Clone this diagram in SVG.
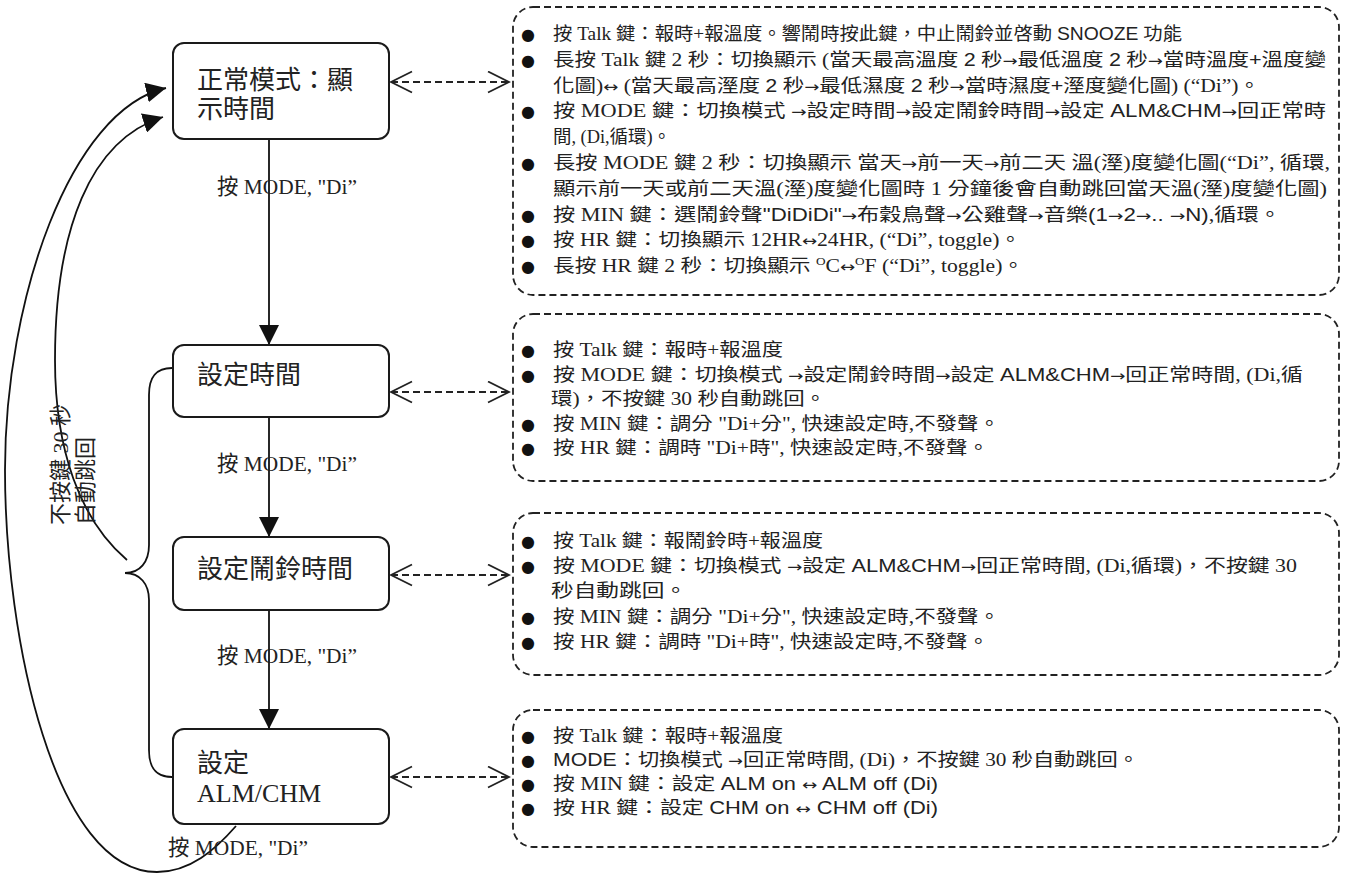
<svg xmlns="http://www.w3.org/2000/svg" width="1350" height="874" viewBox="0 0 1350 874">
<defs>
<style>
.node rect{fill:#fff;stroke:#1a1a1a;stroke-width:2}
.nt{font-family:'Liberation Serif','Noto Sans CJK TC',serif;font-size:26px;fill:#222}
.lbl{font-family:'Liberation Serif','Noto Sans CJK TC',serif;font-size:22px;fill:#222}
.box{fill:none;stroke:#222;stroke-width:1.8;stroke-dasharray:7 4}
.bt{font-family:'Liberation Serif','Noto Sans CJK TC',serif;font-size:18px;fill:#222}
.bu{font-family:'DejaVu Sans',sans-serif;font-size:16px;fill:#111}
.s{font-family:'Liberation Sans','Noto Sans CJK TC',sans-serif}
.ar{font-family:'DejaVu Sans',sans-serif;font-size:15px}
.solid{fill:none;stroke:#111;stroke-width:1.8}
.dash{fill:none;stroke:#222;stroke-width:1.8;stroke-dasharray:7 4}
</style>
<marker id="tri" markerUnits="userSpaceOnUse" markerWidth="20" markerHeight="20" refX="20" refY="10" orient="auto"><path d="M0,0 L20,10 L0,20 z" fill="#111"/></marker>
<marker id="open" markerUnits="userSpaceOnUse" markerWidth="24" markerHeight="24" refX="22" refY="11.5" orient="auto-start-reverse"><path d="M1,1 L22,11.5 L1,22" fill="none" stroke="#222" stroke-width="1.8"/></marker>
</defs>
<rect width="1350" height="874" fill="#fff"/>

<g id="connectors">
  <line class="solid" x1="269" y1="140" x2="269" y2="345" marker-end="url(#tri)"/>
  <line class="solid" x1="269" y1="418" x2="269" y2="537" marker-end="url(#tri)"/>
  <line class="solid" x1="269" y1="611" x2="269" y2="729" marker-end="url(#tri)"/>
  <text class="lbl" x="217" y="194" textLength="140" lengthAdjust="spacingAndGlyphs">按 MODE, "Di”</text>
  <text class="lbl" x="217" y="471" textLength="140" lengthAdjust="spacingAndGlyphs">按 MODE, "Di”</text>
  <text class="lbl" x="217" y="663" textLength="140" lengthAdjust="spacingAndGlyphs">按 MODE, "Di”</text>
  <path class="solid" d="M236,826 C215,850 190,872 157,872 C55,872 5,640 5,470 C5,300 70,110 166,88" marker-end="url(#tri)"/>
  <text class="lbl" x="168" y="855" textLength="140" lengthAdjust="spacingAndGlyphs">按 MODE, "Di”</text>
  <path class="solid" d="M172,368 C155,368 149,378 149,395 L149,545 C149,562 140,573 125,573 C140,573 149,584 149,600 L149,750 C149,767 155,777 172,777"/>
  <path class="solid" d="M127,560 C80,520 55,450 55,360 C55,230 90,140 163,117" marker-end="url(#tri)"/>
  <text class="lbl" transform="translate(68,525) rotate(-90)" x="0" y="0" font-size="21">不按鍵 30 秒</text>
  <text class="lbl" transform="translate(93,525) rotate(-90)" x="0" y="0" font-size="21">自動跳回</text>
  <line class="dash" x1="391" y1="82" x2="509" y2="82" marker-start="url(#open)" marker-end="url(#open)"/>
  <line class="dash" x1="391" y1="392" x2="509" y2="392" marker-start="url(#open)" marker-end="url(#open)"/>
  <line class="dash" x1="391" y1="575" x2="509" y2="575" marker-start="url(#open)" marker-end="url(#open)"/>
  <line class="dash" x1="391" y1="777" x2="509" y2="777" marker-start="url(#open)" marker-end="url(#open)"/>
</g>

<g id="node-normal" class="node">
  <rect x="173" y="43" width="216" height="96" rx="11"/>
  <text class="nt" x="197" y="89">正常模式：顯</text>
  <text class="nt" x="197" y="118">示時間</text>
</g>
<g id="node-settime" class="node">
  <rect x="173" y="345" width="216" height="72" rx="11"/>
  <text class="nt" x="197" y="384">設定時間</text>
</g>
<g id="node-setalarm" class="node">
  <rect x="173" y="537" width="216" height="73" rx="11"/>
  <text class="nt" x="197" y="578">設定鬧鈴時間</text>
</g>
<g id="node-setalmchm" class="node">
  <rect x="173" y="729" width="216" height="95" rx="11"/>
  <text class="nt" x="197" y="772">設定</text>
  <text class="nt" x="197" y="802">ALM/CHM</text>
</g>

<g id="box-normal">
  <rect class="box" x="513" y="7" width="826" height="288" rx="20"/>
  <text class="bu" x="521" y="40">●</text>
  <text class="bt" x="553" y="40" textLength="629" lengthAdjust="spacingAndGlyphs">按 Talk 鍵：報時+報溫度。響鬧時按此鍵，中止鬧鈴並啓動 <tspan class="s">SNOOZE</tspan> 功能</text>
  <text class="bu" x="521" y="66">●</text>
  <text class="bt" x="553" y="66" textLength="773" lengthAdjust="spacingAndGlyphs">長按 Talk 鍵 2 秒：切換顯示 (當天最高溫度 <tspan class="s">2</tspan> 秒<tspan class="ar">→</tspan>最低溫度 <tspan class="s">2</tspan> 秒<tspan class="ar">→</tspan>當時溫度<tspan class="s">+</tspan>溫度變</text>
  <text class="bt" x="553" y="92" textLength="707" lengthAdjust="spacingAndGlyphs">化圖)<tspan class="ar">↔</tspan> (當天最高溼度 <tspan class="s">2</tspan> 秒<tspan class="ar">→</tspan>最低濕度 <tspan class="s">2</tspan> 秒<tspan class="ar">→</tspan>當時濕度<tspan class="s">+</tspan>溼度變化圖) (“Di”)。</text>
  <text class="bu" x="521" y="117">●</text>
  <text class="bt" x="553" y="117" textLength="773" lengthAdjust="spacingAndGlyphs">按 MODE 鍵：切換模式  <tspan class="ar">→</tspan>設定時間<tspan class="ar">→</tspan>設定鬧鈴時間<tspan class="ar">→</tspan>設定 <tspan class="s">ALM&amp;CHM</tspan><tspan class="ar">→</tspan>回正常時</text>
  <text class="bt" x="553" y="143" textLength="118" lengthAdjust="spacingAndGlyphs">間, (Di,循環)。</text>
  <text class="bu" x="521" y="169">●</text>
  <text class="bt" x="553" y="169" textLength="777" lengthAdjust="spacingAndGlyphs">長按 MODE 鍵 2 秒：切換顯示 當天<tspan class="ar">→</tspan>前一天<tspan class="ar">→</tspan>前二天 溫(溼)度變化圖(“Di”, 循環,</text>
  <text class="bt" x="553" y="195" textLength="774" lengthAdjust="spacingAndGlyphs">顯示前一天或前二天溫(溼)度變化圖時 1 分鐘後會自動跳回當天溫(溼)度變化圖)</text>
  <text class="bu" x="521" y="221">●</text>
  <text class="bt" x="553" y="221" textLength="728" lengthAdjust="spacingAndGlyphs">按 MIN 鍵：選鬧鈴聲<tspan class="s">"DiDiDi"</tspan><tspan class="ar">→</tspan>布穀鳥聲<tspan class="ar">→</tspan>公雞聲<tspan class="ar">→</tspan>音樂<tspan class="s">(1</tspan><tspan class="ar">→</tspan><tspan class="s">2</tspan><tspan class="ar">→</tspan><tspan class="s">.. </tspan><tspan class="ar">→</tspan><tspan class="s">N)</tspan>,循環。</text>
  <text class="bu" x="521" y="246">●</text>
  <text class="bt" x="553" y="246" textLength="468" lengthAdjust="spacingAndGlyphs">按 HR 鍵：切換顯示 12HR<tspan class="ar">↔</tspan>24HR, (“Di”, toggle)。</text>
  <text class="bu" x="521" y="272">●</text>
  <text class="bt" x="553" y="272" textLength="471" lengthAdjust="spacingAndGlyphs">長按 HR 鍵 2 秒：切換顯示 <tspan dy="-7" font-size="11">O</tspan><tspan dy="7">C</tspan><tspan class="ar">↔</tspan><tspan dy="-7" font-size="11">O</tspan><tspan dy="7">F (“Di”, toggle)。</tspan></text>
</g>

<g id="box-settime">
  <rect class="box" x="513" y="314" width="826" height="167" rx="20"/>
  <text class="bu" x="521" y="356">●</text>
  <text class="bt" x="553" y="356" textLength="230" lengthAdjust="spacingAndGlyphs">按 Talk 鍵：報時+報溫度</text>
  <text class="bu" x="521" y="381">●</text>
  <text class="bt" x="553" y="381" textLength="750" lengthAdjust="spacingAndGlyphs">按 MODE 鍵：切換模式 <tspan class="ar">→</tspan>設定鬧鈴時間<tspan class="ar">→</tspan>設定 <tspan class="s">ALM&amp;CHM</tspan><tspan class="ar">→</tspan>回正常時間, (Di,循</text>
  <text class="bt" x="551" y="405" textLength="275" lengthAdjust="spacingAndGlyphs">環)，不按鍵 30 秒自動跳回。</text>
  <text class="bu" x="521" y="430">●</text>
  <text class="bt" x="553" y="430" textLength="447" lengthAdjust="spacingAndGlyphs">按 MIN 鍵：調分 "Di+分", 快速設定時,不發聲。</text>
  <text class="bu" x="521" y="454">●</text>
  <text class="bt" x="553" y="454" textLength="436" lengthAdjust="spacingAndGlyphs">按 HR 鍵：調時 "Di+時", 快速設定時,不發聲。</text>
</g>

<g id="box-setalarm">
  <rect class="box" x="513" y="513" width="826" height="162" rx="20"/>
  <text class="bu" x="521" y="547">●</text>
  <text class="bt" x="553" y="547" textLength="270" lengthAdjust="spacingAndGlyphs">按 Talk 鍵：報鬧鈴時+報溫度</text>
  <text class="bu" x="521" y="572">●</text>
  <text class="bt" x="553" y="572" textLength="744" lengthAdjust="spacingAndGlyphs">按 MODE 鍵：切換模式 <tspan class="ar">→</tspan>設定 <tspan class="s">ALM&amp;CHM</tspan><tspan class="ar">→</tspan>回正常時間, (Di,循環)，不按鍵 30</text>
  <text class="bt" x="551" y="597" textLength="136" lengthAdjust="spacingAndGlyphs">秒自動跳回。</text>
  <text class="bu" x="521" y="623">●</text>
  <text class="bt" x="553" y="623" textLength="447" lengthAdjust="spacingAndGlyphs">按 MIN 鍵：調分 "Di+分", 快速設定時,不發聲。</text>
  <text class="bu" x="521" y="648">●</text>
  <text class="bt" x="553" y="648" textLength="436" lengthAdjust="spacingAndGlyphs">按 HR 鍵：調時 "Di+時", 快速設定時,不發聲。</text>
</g>

<g id="box-setalmchm">
  <rect class="box" x="513" y="710" width="826" height="137" rx="20"/>
  <text class="bu" x="521" y="742">●</text>
  <text class="bt" x="553" y="742" textLength="230" lengthAdjust="spacingAndGlyphs">按 Talk 鍵：報時+報溫度</text>
  <text class="bu" x="521" y="766">●</text>
  <text class="bt" x="553" y="766" textLength="586" lengthAdjust="spacingAndGlyphs"><tspan class="s">MODE</tspan>：切換模式 <tspan class="ar">→</tspan>回正常時間, (Di)，不按鍵 30 秒自動跳回。</text>
  <text class="bu" x="521" y="790">●</text>
  <text class="bt" x="553" y="790" textLength="385" lengthAdjust="spacingAndGlyphs">按 MIN 鍵：設定 <tspan class="s">ALM on </tspan><tspan class="ar">↔</tspan><tspan class="s"> ALM off (Di)</tspan></text>
  <text class="bu" x="521" y="814">●</text>
  <text class="bt" x="553" y="814" textLength="385" lengthAdjust="spacingAndGlyphs">按 HR 鍵：設定 <tspan class="s">CHM on </tspan><tspan class="ar">↔</tspan><tspan class="s"> CHM off (Di)</tspan></text>
</g>
</svg>
